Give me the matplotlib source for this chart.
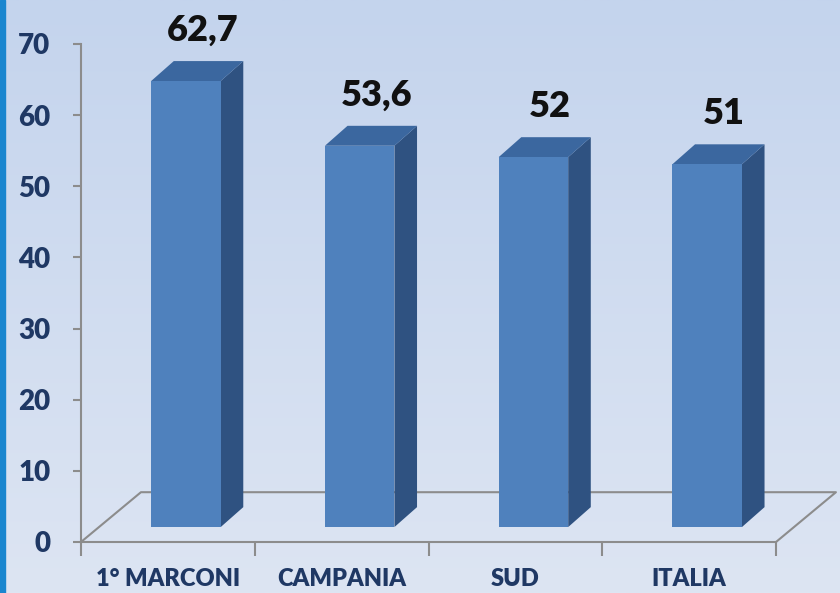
import numpy as np
import matplotlib
matplotlib.use('Agg')
import matplotlib.pyplot as plt
from matplotlib.patches import Polygon, Rectangle
from matplotlib.colors import LinearSegmentedColormap

categories = ['1° MARCONI', 'CAMPANIA', 'SUD', 'ITALIA']
values = [62.7, 53.6, 52, 51]
value_labels = ['62,7', '53,6', '52', '51']
yticks = [0, 10, 20, 30, 40, 50, 60, 70]

plt.rcParams['font.family'] = ['Lato', 'DejaVu Sans']

fig = plt.figure(figsize=(8.4, 5.93), dpi=100)

# background gradient
bg = fig.add_axes([0, 0, 1, 1], zorder=0)
grad = np.linspace(0, 1, 256).reshape(-1, 1)
cmap = LinearSegmentedColormap.from_list('bg', ['#c4d4ed', '#dde5f3'])
bg.imshow(grad, aspect='auto', cmap=cmap, extent=[0, 1, 0, 1])
bg.axis('off')
fig.patches.append(Rectangle((0, 0), 5 / 840, 1, transform=fig.transFigure,
                             color='#1a86cf', zorder=5))

ax = fig.add_axes([81 / 840, 51 / 593, 695 / 840, 498 / 593], zorder=1)
ax.patch.set_alpha(0)
ax.set_xlim(0, 4)
ax.set_ylim(0, 70)

# 3d depth offsets (data units)
floor_dx, floor_dy = 0.345, 7.0
front_dx, front_dy = 0.104, 2.1
bar_dx, bar_dy = 0.13, 2.8
bar_w = 0.4

line_col = '#8c8c8c'
# floor
ax.plot([0, floor_dx, 4 + floor_dx, 4], [0, floor_dy, floor_dy, 0],
        color=line_col, lw=1.5, clip_on=False, zorder=2)

front_col = '#4f81bd'
side_col = '#2f5281'
top_col = '#3b679f'
txt_col = '#1f3864'

for i, v in enumerate(values):
    x0 = i + 0.5 - bar_w / 2 + front_dx
    x1 = x0 + bar_w
    y0 = front_dy
    y1 = front_dy + v
    front = Polygon([[x0, y0], [x1, y0], [x1, y1], [x0, y1]], closed=True,
                    facecolor=front_col, edgecolor='none', zorder=4, clip_on=False)
    side = Polygon([[x1, y0], [x1 + bar_dx, y0 + bar_dy], [x1 + bar_dx, y1 + bar_dy], [x1, y1]],
                   closed=True, facecolor=side_col, edgecolor='none', zorder=3, clip_on=False)
    top = Polygon([[x0, y1], [x1, y1], [x1 + bar_dx, y1 + bar_dy], [x0 + bar_dx, y1 + bar_dy]],
                  closed=True, facecolor=top_col, edgecolor='none', zorder=3, clip_on=False)
    ax.add_patch(side)
    ax.add_patch(top)
    ax.add_patch(front)
    ax.text(i + 0.5 + 0.2, y1 + bar_dy + 4.3, value_labels[i], ha='center', va='center',
            fontsize=26, fontweight='heavy', color='#111111', clip_on=False)

for s in ['top', 'right']:
    ax.spines[s].set_visible(False)
for s in ['left', 'bottom']:
    ax.spines[s].set_color(line_col)
    ax.spines[s].set_linewidth(1.5)

ax.set_yticks(yticks)
ax.set_yticklabels([str(t) for t in yticks], fontsize=20, fontweight='heavy', color=txt_col)
ax.set_xticks([0, 1, 2, 3, 4])
ax.set_xticklabels([])
ax.set_xticks([0.5, 1.5, 2.5, 3.5], minor=True)
ax.set_xticklabels(categories, minor=True, fontsize=17, fontweight='heavy', color=txt_col)
ax.tick_params(axis='y', length=6, width=1.5, color=line_col, pad=16)
ax.tick_params(axis='x', which='major', length=10, width=1.5, color=line_col)
ax.tick_params(axis='x', which='minor', length=0, pad=19)

fig.savefig('out.png', dpi=100)
